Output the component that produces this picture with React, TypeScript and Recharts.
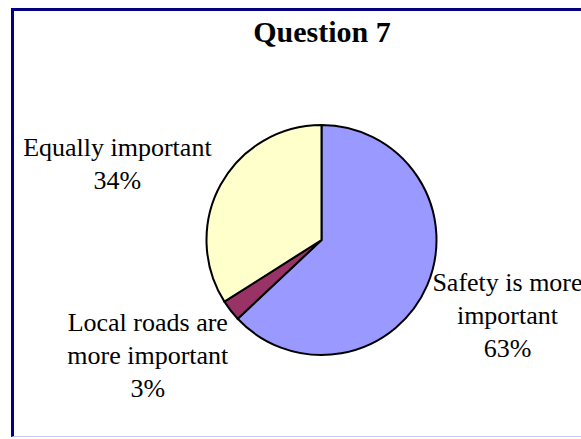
import { Cell, Pie, PieChart } from 'recharts'

const categories = ['Safety is more important', 'Local roads are more important', 'Equally important']
const shares = [63, 3, 34]
const labelLines = [
  ['Safety is more', 'important'],
  ['Local roads are', 'more important'],
  ['Equally important'],
]
const colors = ['#9999FF', '#993366', '#FFFFCC']

const data = categories.map((name, i) => ({ name, value: shares[i] }))

const FONT = '"Liberation Serif", "Times New Roman", serif'
const FONT_SIZE = 26
const LINE_H = 33
const RAD = Math.PI / 180

let measureCtx: CanvasRenderingContext2D | null = null
function textWidth(s: string) {
  if (!measureCtx) {
    measureCtx = document.createElement('canvas').getContext('2d')
  }
  if (!measureCtx) return s.length * FONT_SIZE * 0.45
  measureCtx.font = `${FONT_SIZE}px ${FONT}`
  return measureCtx.measureText(s).width
}

// best-fit style label: box sits just outside the pie along the slice's mid angle
function renderLabel(props: any) {
  const { cx, cy, midAngle, outerRadius, index, percent } = props
  const lines = [...labelLines[index], `${Math.round(percent * 100)}%`]
  const w = Math.max(...lines.map(textWidth))
  const h = lines.length * LINE_H
  const cos = Math.cos(-midAngle * RAD)
  const sin = Math.sin(-midAngle * RAD)
  const r = outerRadius + 18
  const x = cx + r * cos + (w / 2) * cos - 5
  const y = cy + r * sin + (h / 2) * sin + 3
  const first = y - ((lines.length - 1) / 2) * LINE_H + 9
  return (
    <text
      key={`lbl-${index}`}
      x={x}
      y={first}
      textAnchor="middle"
      fontFamily={FONT}
      fontSize={FONT_SIZE}
      fill="#000"
    >
      {lines.map((t, i) => (
        <tspan key={i} x={x} y={first + i * LINE_H}>
          {t}
        </tspan>
      ))}
    </text>
  )
}

export default function App() {
  return (
    <div style={{ position: 'absolute', left: 0, top: 0, width: 581, height: 439, background: '#fff', overflow: 'hidden' }}>
      <div
        style={{
          position: 'absolute',
          left: 11,
          top: 8,
          width: 600,
          height: 429,
          borderTop: '3px solid #000080',
          borderLeft: '3px solid #000080',
          borderBottom: '1px solid #c8c8f0',
          boxSizing: 'border-box',
        }}
      />
      <div
        style={{
          position: 'absolute',
          left: 222,
          top: 17,
          width: 200,
          textAlign: 'center',
          fontFamily: FONT,
          fontWeight: 'bold',
          fontSize: 30,
          lineHeight: '30px',
          color: '#000',
        }}
      >
        Question 7
      </div>
      <div style={{ position: 'absolute', left: 0, top: 0 }}>
        <PieChart width={581} height={439} margin={{ top: 0, right: 0, bottom: 0, left: 0 }}>
          <Pie
            data={data}
            dataKey="value"
            nameKey="name"
            cx={321.5}
            cy={240}
            outerRadius={115}
            startAngle={90}
            endAngle={-270}
            stroke="#000"
            strokeWidth={2}
            label={renderLabel}
            labelLine={false}
            isAnimationActive={false}
          >
            {data.map((d, i) => (
              <Cell key={d.name} fill={colors[i]} />
            ))}
          </Pie>
        </PieChart>
      </div>
    </div>
  )
}
